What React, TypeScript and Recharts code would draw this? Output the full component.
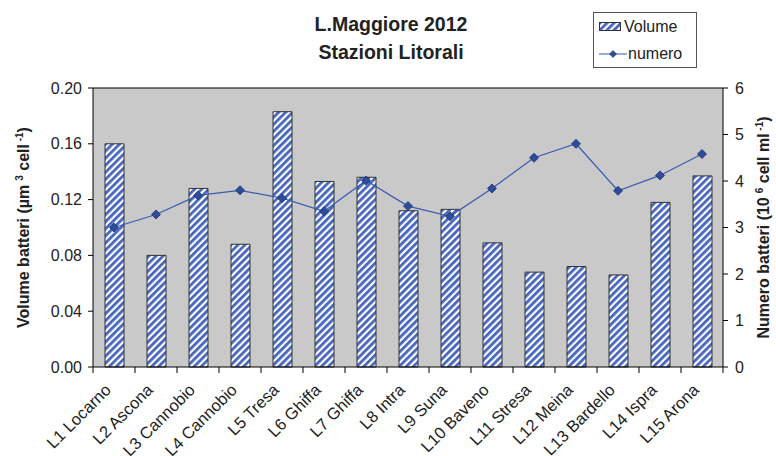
import React from "react";
import {
  Bar,
  CartesianGrid,
  ComposedChart,
  Line,
  ReferenceLine,
  XAxis,
  YAxis,
} from "recharts";

const stations = [
  "L1 Locarno",
  "L2 Ascona",
  "L3 Cannobio",
  "L4 Cannobio",
  "L5 Tresa",
  "L6 Ghiffa",
  "L7 Ghiffa",
  "L8 Intra",
  "L9 Suna",
  "L10 Baveno",
  "L11 Stresa",
  "L12 Meina",
  "L13 Bardello",
  "L14 Ispra",
  "L15 Arona",
];
const volume = [0.16, 0.08, 0.128, 0.088, 0.183, 0.133, 0.136, 0.112, 0.113, 0.089, 0.068, 0.072, 0.066, 0.118, 0.137];
const numero = [3.0, 3.28, 3.69, 3.8, 3.63, 3.35, 4.01, 3.46, 3.24, 3.84, 4.5, 4.8, 3.79, 4.12, 4.58];
const leftTicks = [0, 0.04, 0.08, 0.12, 0.16, 0.2];
const rightTicks = [0, 1, 2, 3, 4, 5, 6];

const data = stations.map((name, i) => ({ name, volume: volume[i], numero: numero[i] }));

const FONT = "'Liberation Sans', Arial, sans-serif";
const BLUE = "#3a5bb5";
const W = 776;
const H = 456;
const PLOT_W = 630;
const BAND = PLOT_W / stations.length;

function CategoryTick(props: any) {
  const { x, y, payload, index } = props;
  return (
    <g>
      <line x1={x - BAND / 2} x2={x - BAND / 2} y1={y - 8} y2={y - 2} stroke="#000" />
      {index === stations.length - 1 && (
        <line x1={x + BAND / 2} x2={x + BAND / 2} y1={y - 8} y2={y - 2} stroke="#000" />
      )}
      <text
        transform={`translate(${x - 2},${y + 16}) rotate(-45)`}
        textAnchor="end"
        fontFamily={FONT}
        fontSize={16.5}
        fill="#222"
      >
        {payload.value}
      </text>
    </g>
  );
}

function LeftTitle(props: any) {
  const { viewBox } = props;
  const cy = viewBox.y + viewBox.height / 2;
  return (
    <text
      transform={`translate(29,${cy}) rotate(-90)`}
      textAnchor="middle"
      fontFamily={FONT}
      fontWeight="bold"
      fontSize={16}
      fill="#222"
    >
      Volume batteri (µm
      <tspan dx={4} dy={-6} fontSize={10}>3</tspan>
      <tspan dy={6}> cell</tspan>
      <tspan dy={-6} fontSize={10}> -1</tspan>
      <tspan dy={6}>)</tspan>
    </text>
  );
}

function RightTitle(props: any) {
  const { viewBox } = props;
  const cy = viewBox.y + viewBox.height / 2;
  return (
    <text
      transform={`translate(769,${cy}) rotate(-90)`}
      textAnchor="middle"
      fontFamily={FONT}
      fontWeight="bold"
      fontSize={16}
      fill="#222"
    >
      Numero batteri (10
      <tspan dx={4} dy={-6} fontSize={10}>6</tspan>
      <tspan dy={6}> cell ml</tspan>
      <tspan dy={-6} fontSize={10}> -1</tspan>
      <tspan dy={6}>)</tspan>
    </text>
  );
}

function LegendBox() {
  return (
    <div
      style={{
        position: "absolute",
        left: 593,
        top: 12,
        width: 104,
        height: 56,
        border: "1px solid #555",
        background: "#fff",
        fontFamily: FONT,
        fontSize: 16,
        color: "#222",
        lineHeight: "27px",
        boxSizing: "border-box",
        paddingLeft: 5,
      }}
    >
      <div style={{ display: "flex", alignItems: "center" }}>
        <svg width={24} height={10} style={{ marginRight: 1 }}>
          <defs>
            <pattern id="hatchLegend" width={5} height={5} patternUnits="userSpaceOnUse" patternTransform="rotate(45)">
              <rect width={5} height={5} fill="#ffffff" />
              <rect width={2.8} height={5} fill="#4666bd" />
            </pattern>
          </defs>
          <rect x={0.5} y={0.5} width={21} height={8} fill="url(#hatchLegend)" stroke="#333" />
        </svg>
        Volume
      </div>
      <div style={{ display: "flex", alignItems: "center" }}>
        <svg width={28} height={10} style={{ marginRight: 1 }}>
          <line x1={0} x2={28} y1={5} y2={5} stroke={BLUE} />
          <path d="M14 1.5 L17.5 5 L14 8.5 L10.5 5 Z" fill="#2d4c9c" stroke="#1d2f66" strokeWidth={0.6} />
        </svg>
        numero
      </div>
    </div>
  );
}

function Diamond(props: any) {
  const { cx, cy } = props;
  if (cx == null || cy == null) return null;
  return (
    <path
      d={`M${cx} ${cy - 4.5} L${cx + 4.5} ${cy} L${cx} ${cy + 4.5} L${cx - 4.5} ${cy} Z`}
      fill="#2d4c9c"
      stroke="#1d2f66"
      strokeWidth={0.8}
    />
  );
}

export default function App() {
  return (
    <div style={{ position: "absolute", left: 0, top: 0, width: W, height: H, background: "#fff" }}>
      <div
        style={{
          position: "absolute",
          left: 0,
          width: W,
          top: 10,
          textAlign: "center",
          fontFamily: FONT,
          fontWeight: "bold",
          fontSize: 19.5,
          lineHeight: "28px",
          color: "#222",
          paddingLeft: 6,
          boxSizing: "border-box",
        }}
      >
        <div>L.Maggiore 2012</div>
        <div>Stazioni Litorali</div>
      </div>
      <ComposedChart
        width={W}
        height={H}
        data={data}
        margin={{ top: 88, right: 18, bottom: 9, left: 33 }}
        barCategoryGap={0}
        style={{ fontFamily: FONT }}
      >
        <defs>
          <pattern id="hatch" width={5} height={5} patternUnits="userSpaceOnUse" patternTransform="rotate(45)">
            <rect width={5} height={5} fill="#ffffff" />
            <rect width={2.8} height={5} fill="#4666bd" />
          </pattern>
        </defs>
        <CartesianGrid horizontal={false} vertical={false} fill="#c9c9c9" />
        <XAxis
          dataKey="name"
          xAxisId="cat"
          height={80}
          interval={0}
          tickLine={false}
          axisLine={{ stroke: "#000" }}
          tick={<CategoryTick />}
        />
        <YAxis
          yAxisId="left"
          width={60}
          domain={[0, 0.2]}
          ticks={leftTicks}
          tickFormatter={(v: number) => v.toFixed(2)}
          tick={{ fill: "#222", fontSize: 16, fontFamily: FONT }}
          tickSize={5}
          tickMargin={6}
          tickLine={{ stroke: "#000" }}
          axisLine={{ stroke: "#000" }}
          label={{ content: <LeftTitle /> }}
        />
        <YAxis
          yAxisId="right"
          orientation="right"
          width={35}
          domain={[0, 6]}
          ticks={rightTicks}
          tick={{ fill: "#222", fontSize: 16, fontFamily: FONT }}
          tickSize={5}
          tickMargin={7}
          tickLine={{ stroke: "#000" }}
          axisLine={{ stroke: "#000" }}
          label={{ content: <RightTitle /> }}
        />
        <ReferenceLine yAxisId="left" xAxisId="cat" y={0.2} stroke="#000" />
        <Bar
          dataKey="volume"
          xAxisId="cat"
          yAxisId="left"
          barSize={19}
          fill="url(#hatch)"
          stroke="#333"
          strokeWidth={1}
          isAnimationActive={false}
        />
        <Line
          dataKey="numero"
          xAxisId="cat"
          yAxisId="right"
          stroke={BLUE}
          strokeWidth={1.2}
          dot={<Diamond />}
          activeDot={false}
          isAnimationActive={false}
        />
      </ComposedChart>
      <LegendBox />
    </div>
  );
}
